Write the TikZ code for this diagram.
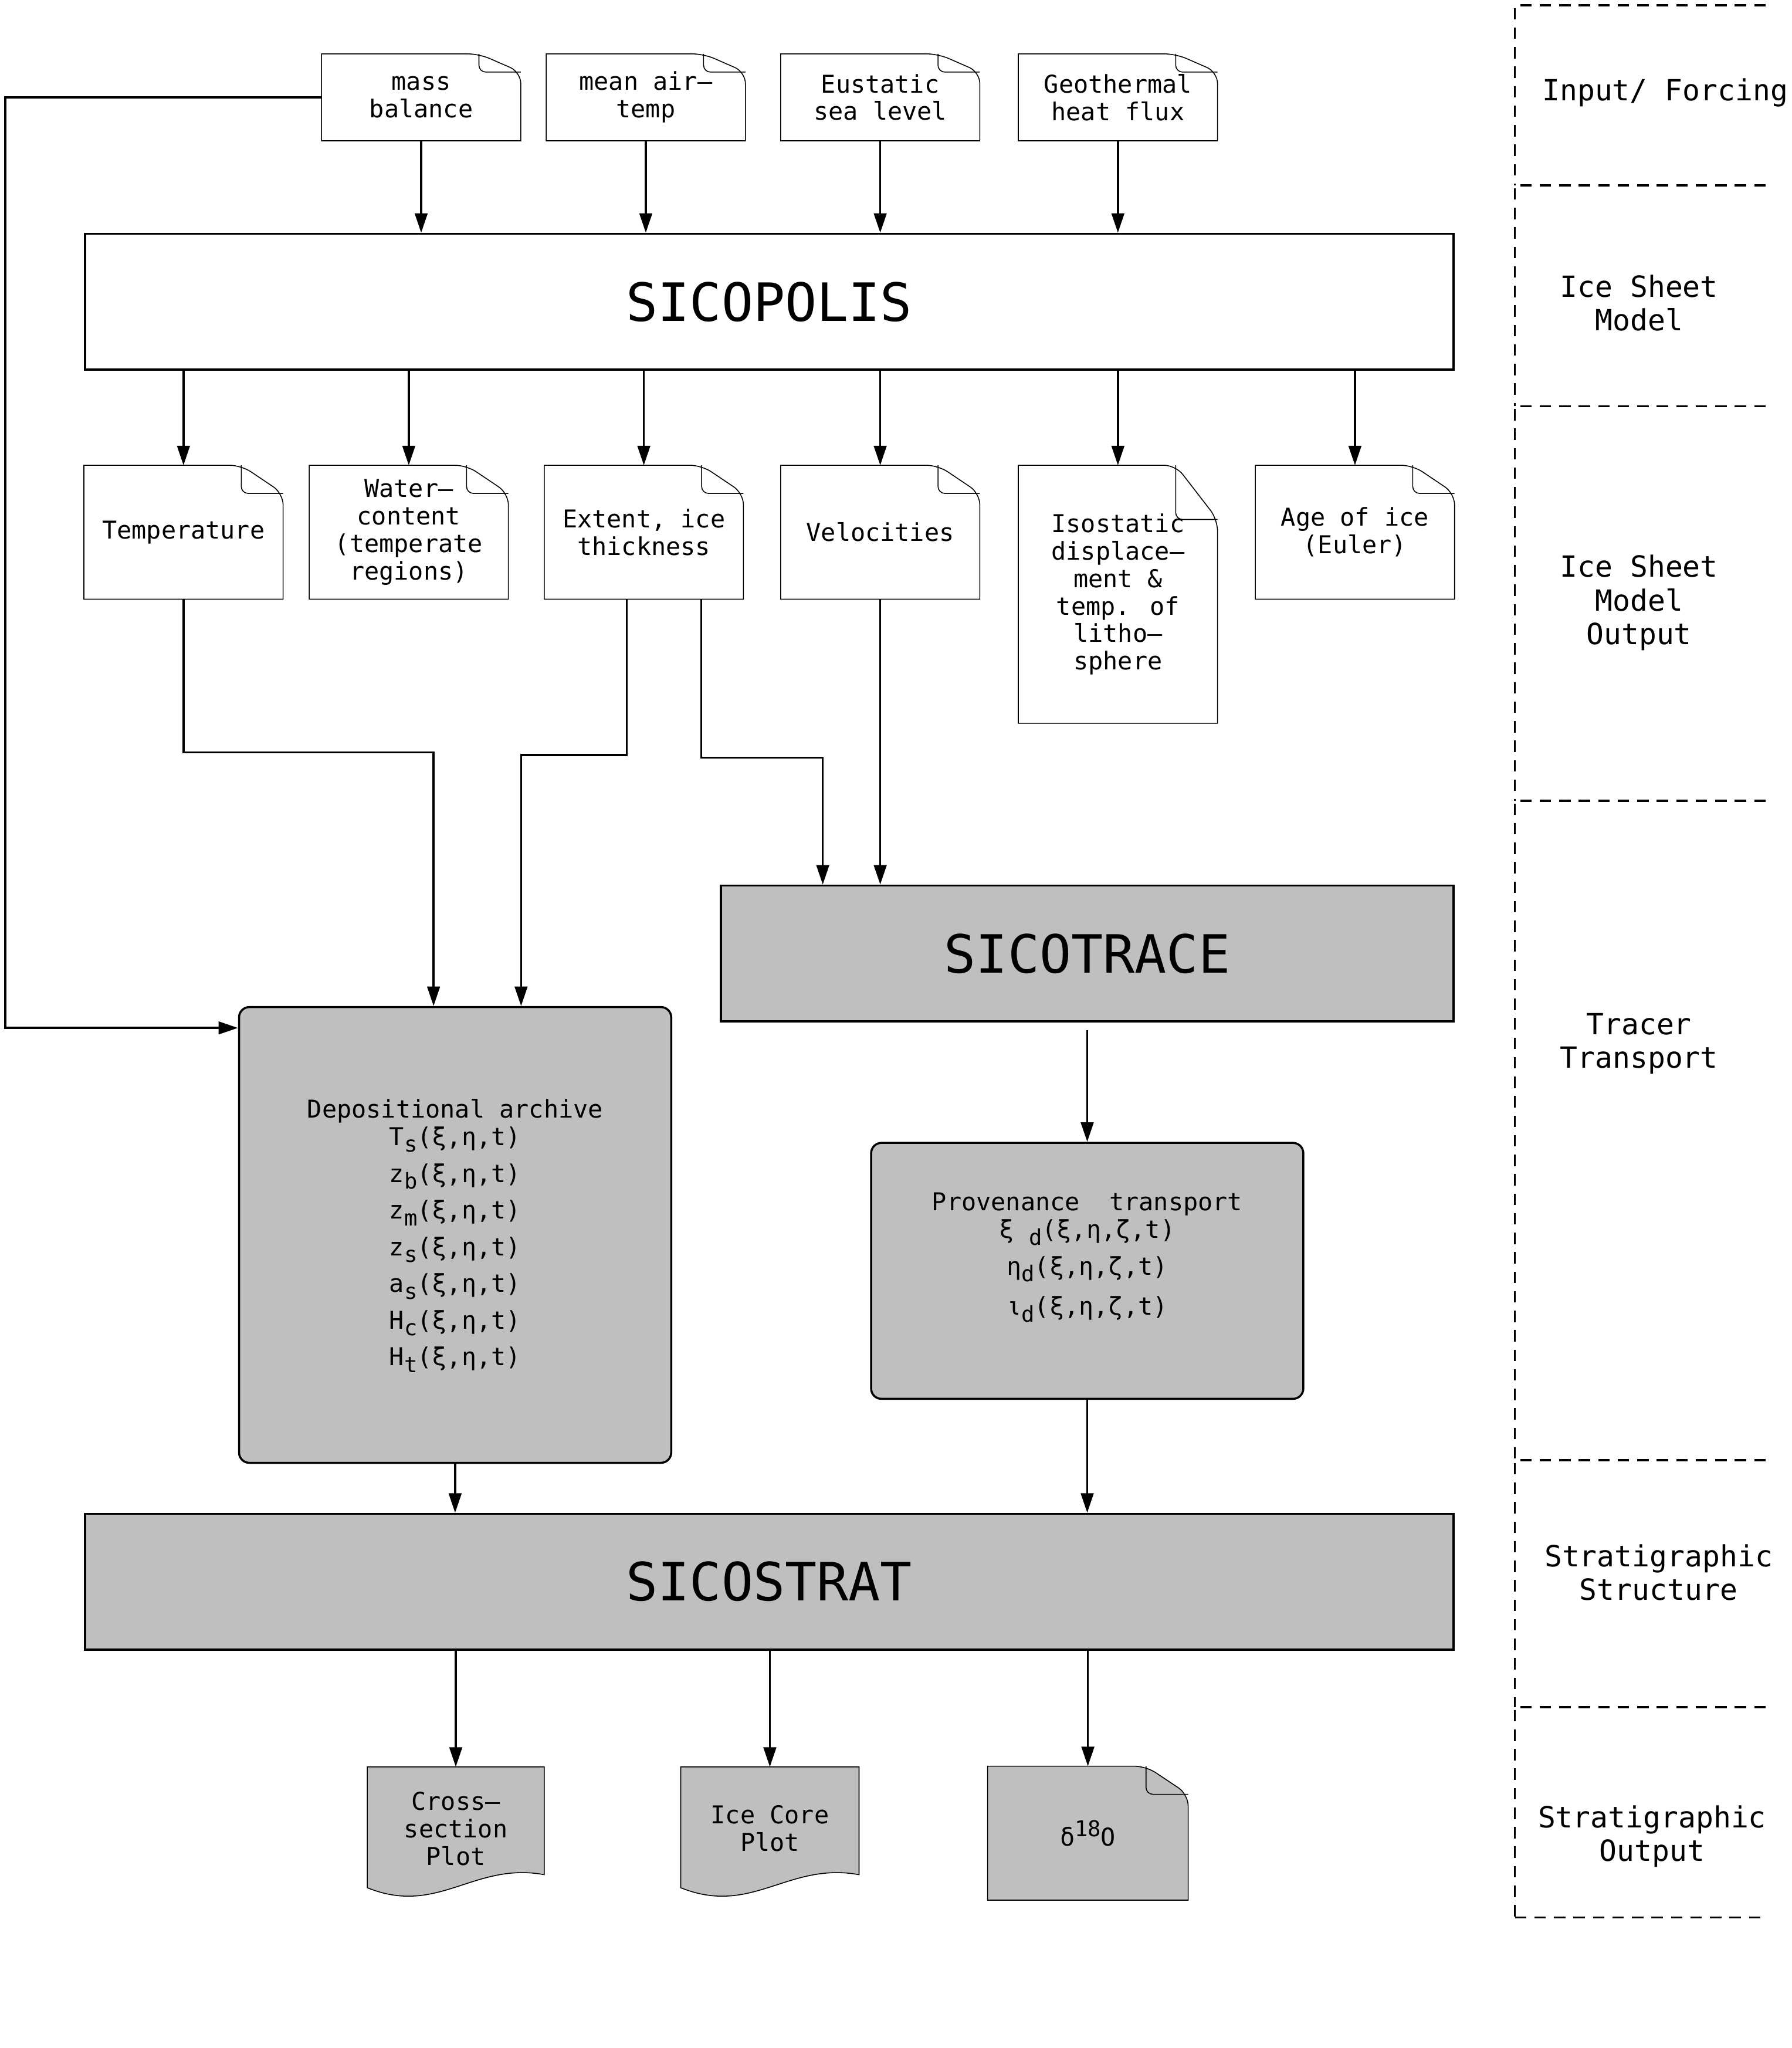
\documentclass[tikz,border=0pt]{standalone}
\usepackage{fontspec}
\setmainfont{DejaVu Sans Mono}
\usetikzlibrary{positioning, calc, arrows.meta, backgrounds}
\definecolor{boxgray}{RGB}{191,191,191}
\newcommand{\lsub}[1]{\raisebox{-0.5ex}[0pt][0pt]{\fontsize{9.5}{10}\selectfont #1}}
\newcommand{\lsup}[1]{\raisebox{0.7ex}{\fontsize{9.5}{10}\selectfont #1}}

\begin{document}
\begin{tikzpicture}[x=0.02cm, y=-0.02cm, line width=0.9pt,
arr/.style={-{Triangle[length=8.5pt,width=5.5pt]}},
txt/.style={align=center, inner sep=0pt, font=\fontsize{10.7}{12}\selectfont},
doc/.style={txt, minimum width=3.02cm, minimum height=2.02cm},
indoc/.style={doc, minimum height=1.30cm},
model/.style={draw, txt, minimum height=2.08cm, font=\fontsize{23}{27}\selectfont},
archive/.style={draw, fill=boxgray, rounded corners=4.5pt, txt, minimum width=6.62cm},
lane/.style={dash pattern=on 5pt off 3.5pt},
lanetext/.style={align=center, inner sep=0pt, font=\fontsize{12.7}{14.7}\selectfont}]

\useasboundingbox (0,0) rectangle (1372,1568);

% input / forcing
\node[indoc] (mb) at (322.5,74.5) {mass\\balance};
\node[indoc] (at) at (494.5,74.5) {mean air–\\temp};
\node[indoc] (sl) at (674,74.5) {Eustatic\\sea level};
\node[indoc] (gh) at (856,74.5) {Geothermal\\heat flux};

% ice sheet model
\node[model, minimum width=20.96cm] (sicop) at (589,231) {SICOPOLIS};

% model output
\node[doc] (temp) at (140.5,407.5) {Temperature};
\node[doc] (wc) at (313,407.5) {Water–\\content\\(temperate\\regions)};
\node[doc] (ext) at (493,407.5) {Extent, ice\\thickness};
\node[doc] (vel) at (674,407.5) {Velocities};
\node[doc, minimum height=3.92cm] (iso) at (856,455) {Isostatic\\displace–\\ment \&\\temp. of\\litho–\\sphere};
\node[doc] (age) at (1037.5,407.5) {Age of ice\\(Euler)};

% tracer transport
\node[model, fill=boxgray, minimum width=11.22cm] (trace) at (832.5,730) {SICOTRACE};
\node[archive, minimum height=6.98cm] (dep) at (348.5,945.5) {Depositional archive\\
T\lsub{s}(ξ,η,t)\\[4pt]
z\lsub{b}(ξ,η,t)\\[4pt]
z\lsub{m}(ξ,η,t)\\[4pt]
z\lsub{s}(ξ,η,t)\\[4pt]
a\lsub{s}(ξ,η,t)\\[4pt]
H\lsub{c}(ξ,η,t)\\[4pt]
H\lsub{t}(ξ,η,t)};
\node[archive, minimum height=3.92cm] (prov) at (832.5,973) {};
\node[txt] (provtxt) at (832.5,962) {Provenance~~transport\\
ξ\ \lsub{d}(ξ,η,ζ,t)\\[4pt]
η\lsub{d}(ξ,η,ζ,t)\\[5.5pt]
ι\lsub{d}(ξ,η,ζ,t)};

% stratigraphy
\node[model, fill=boxgray, minimum width=20.96cm] (strat) at (589,1211) {SICOSTRAT};
\node[doc, minimum width=2.68cm, minimum height=1.86cm] (cs) at (349,1400) {Cross–\\section\\Plot};
\node[doc, minimum width=2.70cm, minimum height=1.86cm] (ic) at (589.5,1400) {Ice Core\\Plot};
\node[doc, minimum width=3.04cm] (d18) at (833,1403.5) {δ\lsup{18}O};

% document outlines
\begin{scope}[on background layer]
\foreach \n/\c in {mb/white,at/white,sl/white,gh/white,temp/white,wc/white,ext/white,vel/white,iso/white,age/white,d18/boxgray}{
  \coordinate (\n-a) at ($(\n.north east)!0.21!(\n.north west)$);
  \coordinate (\n-b) at ($(\n.north east)!0.21!(\n.south east)$);
  \draw[fill=\c] (\n.south west) -- (\n.north west) [rounded corners=5pt] -- (\n-a) -- (\n-b) [sharp corners] -- (\n.south east) -- cycle;
  \draw[rounded corners=3pt] (\n-a) -- (\n-a |- \n-b) -- (\n-b);
}
\foreach \n in {cs,ic}
  \draw[fill=boxgray] ($(\n.south west)+(0,-2)$) -- (\n.north west) -- (\n.north east) -- ($(\n.south east)+(0,-12)$)
    .. controls ($(\n.south west)!0.6!(\n.south east)+(0,-22)$) and ($(\n.south west)!0.4!(\n.south east)+(0,20)$) .. ($(\n.south west)+(0,-2)$) -- cycle;
\end{scope}

% connectors
\foreach \n in {mb,at,sl,gh}
  \draw[arr] (\n.south) -- (\n.south |- sicop.north);
\foreach \n in {temp,wc,ext,vel,iso,age}
  \draw[arr] (sicop.south -| \n.north) -- (\n.north);
\draw[arr] (temp.south) |- (332,576) -- (dep.north -| 332,0);
\draw[arr] (ext.south -| 480,0) |- (399,578) -- (dep.north -| 399,0);
\draw[arr] (ext.south -| 537,0) |- (630,580) -- (trace.north -| 630,0);
\draw[arr] (vel.south) -- (vel.south |- trace.north);
\draw[arr] (mb.west) -| (4,787) -- (dep.west |- 0,787);
\draw[arr, shorten <=0.12cm] (trace.south) -- (prov.north);
\draw[arr] (dep.south) -- (dep.south |- strat.north);
\draw[arr] (prov.south) -- (prov.south |- strat.north);
\foreach \n in {cs,ic,d18}
  \draw[arr] (strat.south -| \n.north) -- (\n.north);

% lanes
\foreach \ya/\yb in {4/142,142/311,311/613,613/1118,1118/1307,1307/1468}
  \draw[lane] (1352,\ya) -- (1160,\ya) -- (1160,\yb);
\draw[lane] (1160,1468) -- (1354,1468);
\node[lanetext] (forcing) at (1275,71) {Input/ Forcing};
\node[lanetext] (model) at (1255,232) {Ice Sheet\\Model};
\node[lanetext] (output) at (1255,461.5) {Ice Sheet\\Model\\Output};
\node[lanetext] (tracer) at (1255,799) {Tracer\\Transport};
\node[lanetext] (structure) at (1270,1204) {Stratigraphic\\Structure};
\node[lanetext] (stratout) at (1265,1406) {Stratigraphic\\Output};
\end{tikzpicture}
\end{document}
